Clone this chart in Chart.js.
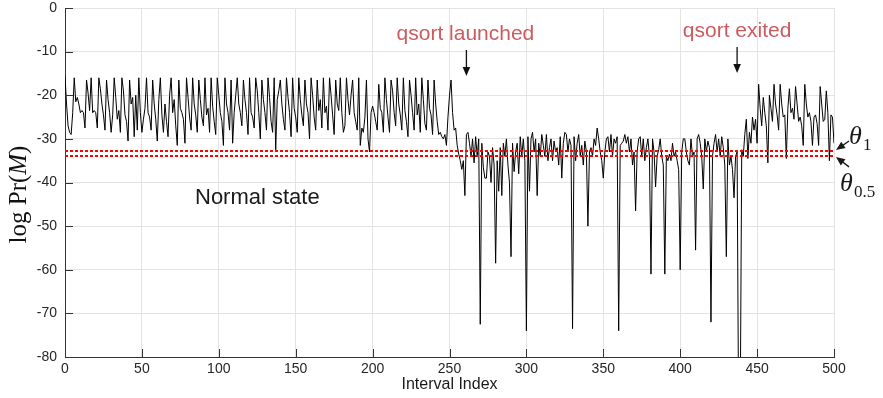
<!DOCTYPE html>
<html lang="en">
<head>
<meta charset="UTF-8">
<title>log Pr(M) per interval</title>
<script src="https://cdn.jsdelivr.net/npm/chart.js"></script>
<style>
  html, body { margin: 0; padding: 0; background: #fff; }
  #wrap { width: 883px; height: 398px; }
</style>
</head>
<body>
<div id="wrap"><canvas id="chart" width="883" height="398"></canvas></div>
<script>
// log Pr(M) per interval (index 0..500)
const normalState = [
  -15.5, -22, -27, -28.5, -29, -24, -16, -21.5, -20.5, -22,
  -24, -23.5, -24, -27.5, -16.5, -19.5, -23.5, -16, -24, -23.5,
  -24, -27.5, -16, -18.5, -22, -24.5, -28, -16.5, -21, -24,
  -28.5, -24.5, -16, -20.5, -25.5, -23.5, -28.5, -16, -19, -24.5,
  -26, -30.5, -16.5, -22, -20.5, -29.5, -20, -28, -16, -24,
  -28.5, -25.5, -23, -16, -24, -25, -28, -16.5, -22, -25.5,
  -30.5, -21, -16, -24.5, -28.5, -22, -26, -29.5, -20, -16,
  -24, -21, -27, -31.5, -16.5, -23, -24, -25.5, -31, -16,
  -20.5, -25, -28, -16, -22, -24.5, -28.5, -16.5, -21, -25,
  -27, -16, -24.5, -23, -28.5, -16, -22.5, -26, -29, -16,
  -20, -24, -26, -31.5, -16, -22, -24, -28, -16.5, -31,
  -24, -20, -16, -22, -24, -27, -16.5, -21, -24, -29,
  -16, -24, -25, -27.5, -16, -19, -24, -30, -16.5, -21,
  -24, -28, -16, -20.5, -26, -28.5, -16, -32.5, -21, -19,
  -16.5, -22, -25.5, -28, -16, -20.5, -24, -29.5, -16, -23,
  -25, -28.5, -16, -21, -24.5, -27, -16.5, -22, -24, -30,
  -16, -20, -25, -28, -16.5, -23.5, -21, -27.5, -16, -24,
  -22.5, -28, -16, -20, -24.5, -29, -16.5, -22, -23.5, -16,
  -24, -28.5, -27, -16, -21, -24.5, -20, -16.5, -24, -26,
  -28, -16, -31.5, -27.5, -28.5, -25, -16.5, -30, -33, -24,
  -22.5, -24, -26, -28, -17.5, -23, -24, -28.5, -16, -21,
  -25, -28.5, -16.5, -19, -24, -27, -16, -22, -24.5, -28,
  -16, -23.5, -26, -29.5, -16.5, -20, -24, -28, -16, -24.5,
  -22, -28.5, -16, -21, -26.5, -28, -16.5, -23, -24.5, -29,
  -16.5, -22, -26, -29, -28.5, -29.5, -30, -29, -31.5, -25,
  -20, -16.5, -24, -28, -27.5, -31.5
];
const qsortRunning = [
  -33.5, -35, -37, -35, -43, -29, -28.5, -31, -34, -30,
  -35.5, -29.5, -34, -30, -72.5, -31, -36.5, -39, -39, -33,
  -34, -40, -32, -36, -58.5, -35, -42, -32, -43, -31,
  -34, -30, -36, -40, -57, -31, -37.5, -33, -31, -38,
  -29.5, -34, -30, -35, -74, -29.5, -42, -30, -28.5, -33,
  -30, -43, -31, -34, -29, -31.5, -34, -29, -35, -32,
  -30, -35, -30.5, -33, -32, -36, -29.5, -39, -31, -28.5,
  -29, -33, -30, -31.5, -73.5, -29.5, -35, -31, -29, -34,
  -31.5, -36, -30.5, -33, -50, -33, -32, -34, -30, -31.5,
  -27.5, -30, -33, -35, -39, -33, -30, -29.5, -33, -29,
  -34, -30, -31, -29.5, -74, -31.5, -31, -30.5, -29, -31,
  -29.5, -33, -30, -36, -33, -46.5, -33, -30, -29.5, -34,
  -30, -35, -32, -30, -34, -61, -30, -33, -41, -34,
  -32.5, -30, -34, -36, -61, -34, -35, -33.5, -35, -31,
  -34, -33, -35, -37, -60, -33, -30, -30, -33, -35,
  -36, -30, -34, -33, -55.5, -30, -29, -31, -34, -41.5,
  -30, -33, -30.5, -32, -72, -34, -31, -29, -33, -30,
  -34, -29.5, -32, -36, -57, -30, -36, -34, -37, -43.5,
  -34, -33, -95, -95, -32.5
];
const afterExit = [
  -34, -29, -25.5, -34.5, -28.5, -31, -25, -28, -25.5, -31,
  -17.5, -23, -27, -20.5, -24, -27, -35.5, -20, -23, -26,
  -17.5, -22, -24.5, -28, -17.5, -22, -25, -24.5, -34.5, -23,
  -18.5, -24, -23, -25.5, -18, -22, -26, -25, -27, -31.5,
  -17.5, -22, -25, -24, -26, -31.5, -25, -24.5, -26.5, -31.5,
  -18, -22, -26, -25.5, -19, -24, -35, -24.5, -25, -31
];

// thresholds and event positions
const theta1 = -32.8;
const thetaHalf = -33.9;
const launchedAt = 261;
const exitedAt = 437;

const xTicks = [0, 50, 100, 150, 200, 250, 300, 350, 400, 450, 500];
const yTicks = [-80, -70, -60, -50, -40, -30, -20, -10, 0];

const logPr = normalState.concat(qsortRunning, afterExit);
const points = logPr.map((v, i) => ({ x: i, y: v }));

const sans = "'Helvetica Neue', Helvetica, 'Liberation Sans', Arial, sans-serif";
const serif = "'Liberation Serif', 'Times New Roman', 'DejaVu Serif', serif";
const noteRed = '#cc5a5e';

function arrow(ctx, x1, y1, x2, y2) {
    const a = Math.atan2(y2 - y1, x2 - x1);
    const len = 9, half = 3.8;
    ctx.beginPath();
    ctx.moveTo(x1, y1);
    ctx.lineTo(x2 - Math.cos(a) * len * 0.8, y2 - Math.sin(a) * len * 0.8);
    ctx.stroke();
    ctx.beginPath();
    ctx.moveTo(x2, y2);
    ctx.lineTo(x2 - Math.cos(a) * len - Math.sin(a) * half, y2 - Math.sin(a) * len + Math.cos(a) * half);
    ctx.lineTo(x2 - Math.cos(a) * len + Math.sin(a) * half, y2 - Math.sin(a) * len - Math.cos(a) * half);
    ctx.closePath();
    ctx.fill();
}

// inner tick marks, labels and arrows
const annotations = {
    id: 'annotations',
    afterDraw(chart) {
        const { ctx, chartArea: area, scales: { x, y } } = chart;
        ctx.save();

        // ticks pointing into the plot
        ctx.strokeStyle = '#333';
        ctx.lineWidth = 1;
        ctx.beginPath();
        xTicks.forEach(t => {
            const px = Math.round(x.getPixelForValue(t)) + 0.5;
            ctx.moveTo(px, area.bottom);
            ctx.lineTo(px, area.bottom - 8);
        });
        yTicks.forEach(t => {
            const py = Math.round(y.getPixelForValue(t)) + 0.5;
            ctx.moveTo(area.left, py);
            ctx.lineTo(area.left + 8, py);
        });
        ctx.stroke();

        // event labels
        ctx.fillStyle = noteRed;
        ctx.font = '21px ' + sans;
        ctx.textAlign = 'center';
        ctx.textBaseline = 'alphabetic';
        const xl = x.getPixelForValue(launchedAt);
        const xe = x.getPixelForValue(exitedAt);
        ctx.fillText('qsort launched', xl - 1, 40);
        ctx.fillText('qsort exited', xe, 37);

        ctx.fillStyle = '#111';
        ctx.strokeStyle = '#111';
        ctx.lineWidth = 1.3;
        arrow(ctx, xl, 50, xl, 76);
        arrow(ctx, xe, 47, xe, 73);

        // normal state
        ctx.fillStyle = '#1a1a1a';
        ctx.font = '22px ' + sans;
        ctx.textAlign = 'left';
        ctx.fillText('Normal state', 195, 204);

        // thresholds
        const right = area.right;
        const y1 = y.getPixelForValue(theta1);
        const y5 = y.getPixelForValue(thetaHalf);
        arrow(ctx, right + 15, y1 - 10, right + 2, y1 - 1);
        arrow(ctx, right + 15, y5 + 11, right + 2, y5 + 1);
        ctx.font = 'italic 26px ' + serif;
        ctx.fillText('\u03b8', right + 15, 144);
        ctx.fillText('\u03b8', right + 6, 191);
        ctx.font = '17px ' + serif;
        ctx.fillText('1', right + 29, 150);
        ctx.fillText('0.5', right + 20, 197);

        // y axis title: log Pr(M)
        ctx.save();
        ctx.translate(26, (area.top + area.bottom) / 2 + 12);
        ctx.rotate(-Math.PI / 2);
        ctx.fillStyle = '#111';
        const parts = [['log ', '25px '], ['Pr(', '25px '], ['M', 'italic 25px '], [')', '25px ']];
        let w = 0;
        parts.forEach(p => { ctx.font = p[1] + serif; w += ctx.measureText(p[0]).width; });
        let cx = -w / 2;
        parts.forEach(p => {
            ctx.font = p[1] + serif;
            ctx.fillText(p[0], cx, 0);
            cx += ctx.measureText(p[0]).width;
        });
        ctx.restore();

        // x axis title
        ctx.fillStyle = '#1a1a1a';
        ctx.font = '16px ' + sans;
        ctx.textAlign = 'center';
        ctx.fillText('Interval Index', (area.left + area.right) / 2, 389);

        ctx.restore();
    }
};

new Chart(document.getElementById('chart'), {
    type: 'line',
    data: {
        datasets: [
            {
                data: [{ x: 0, y: theta1 }, { x: 500, y: theta1 }],
                borderColor: '#ff0000',
                borderWidth: 2,
                borderDash: [3, 2],
                pointRadius: 0,
                order: 0
            },
            {
                data: [{ x: 0, y: thetaHalf }, { x: 500, y: thetaHalf }],
                borderColor: '#ff0000',
                borderWidth: 2,
                borderDash: [3, 2],
                pointRadius: 0,
                order: 0
            },
            {
                data: points,
                borderColor: '#000',
                borderWidth: 1,
                pointRadius: 0,
                tension: 0,
                order: 1
            }
        ]
    },
    options: {
        responsive: false,
        animation: false,
        devicePixelRatio: 1,
        layout: { padding: { top: 8, right: 49, left: 0, bottom: 0 } },
        plugins: { legend: { display: false }, tooltip: { enabled: false } },
        scales: {
            x: {
                type: 'linear',
                min: 0,
                max: 500,
                afterBuildTicks: s => { s.ticks = xTicks.map(v => ({ value: v })); },
                afterFit: s => { s.height = 41; s.paddingLeft = 0; s.paddingRight = 0; },
                ticks: { color: '#262626', font: { size: 14, family: sans }, padding: 4, maxRotation: 0 },
                grid: { color: '#e3e3e3', drawTicks: false },
                border: { color: '#333', width: 1 }
            },
            y: {
                min: -80,
                max: 0,
                afterBuildTicks: s => { s.ticks = yTicks.map(v => ({ value: v })); },
                afterFit: s => { s.width = 65; s.paddingTop = 0; s.paddingBottom = 0; },
                ticks: { color: '#262626', font: { size: 14, family: sans }, padding: 8 },
                grid: { color: '#e3e3e3', drawTicks: false },
                border: { color: '#333', width: 1 }
            }
        }
    },
    plugins: [annotations]
});
</script>
</body>
</html>
